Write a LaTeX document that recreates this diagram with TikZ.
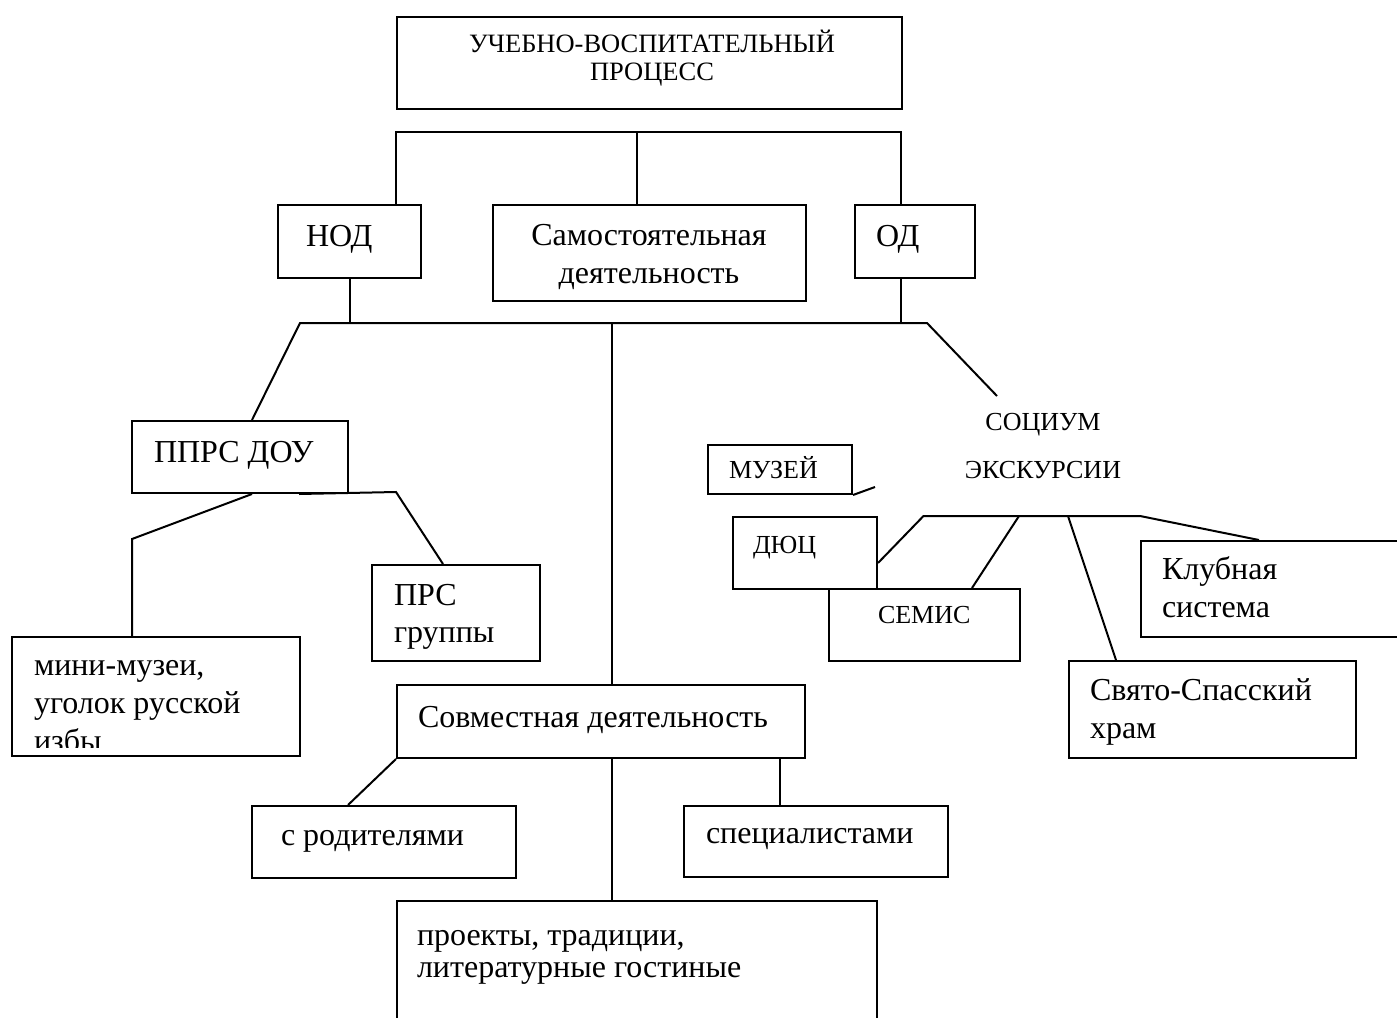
\documentclass[tikz,border=0pt]{standalone}
\usepackage{fontspec}
\setmainfont{Liberation Serif}
\usetikzlibrary{positioning}

\newcommand{\txtbig}{\fontsize{32}{38}\selectfont}
\newcommand{\txtsmall}{\fontsize{26}{28}\selectfont}

\begin{document}
\begin{tikzpicture}[
	x=1pt, y=-1pt,
	line width=2pt,
	box/.style 2 args={draw, rectangle, anchor=north west, inner sep=0pt, minimum width=#1, minimum height=#2},
	txt/.style={anchor=base west, inner sep=0pt, align=left, font=\txtbig},
	ctxt/.style={anchor=base, inner sep=0pt, align=center, font=\txtbig},
	small/.style={font=\txtsmall},
]
\useasboundingbox (0,0) rectangle (1397,1017);
\clip (0,0) rectangle (1397,1017);

% boxes
\node [box={505}{92}] (top) at (396,16) {};
\node [box={143}{73}] (nod) at (277,204) {};
\node [box={313}{96}] (sam) at (492,204) {};
\node [box={120}{73}] (od) at (854,204) {};
\node [box={216}{72}] (pprs) at (131,420) {};
\node [box={168}{96}] (prs) at (371,564) {};
\node [box={288}{119}] (mini) at (11,636) {};
\node [box={408}{73}] (sov) at (396,684) {};
\node [box={264}{72}] (rod) at (251,805) {};
\node [box={264}{71}] (spec) at (683,805) {};
\node [box={480}{200}] (proj) at (396,900) {};
\node [box={144}{49}] (muz) at (707,444) {};
\node [box={144.5}{72}] (dyuc) at (731.5,516) {};
\node [box={191.5}{72}] (semis) at (827.5,588) {};
\node [box={287}{97}] (svyato) at (1068,660) {};
\node [box={300}{96}] (klub) at (1140,540) {};

% texts (multi-line ones sit on the baseline of their last line)
\node [ctxt, font=\fontsize{26.5}{28}\selectfont] (top-t) at (652,80) {УЧЕБНО-ВОСПИТАТЕЛЬНЫЙ\\ПРОЦЕСС};
\node [txt] (nod-t) at (305,246) {НОД};
\node [ctxt] (sam-t) at (649,283) {Самостоятельная\\деятельность};
\node [txt] (od-t) at (875,246) {ОД};
\node [txt] (pprs-t) at (153,462) {ППРС ДОУ};
\node [txt, font=\fontsize{32}{37}\selectfont] (prs-t) at (393,642) {ПРС\\группы};
\begin{scope}
	\clip (mini.north west) rectangle (299,747);
	\node [txt] (mini-t) at (33,751) {мини-музеи,\\уголок русской\\избы};
\end{scope}
\node [txt] (sov-t) at (417,727) {Совместная деятельность};
\node [txt] (rod-t) at (280,845) {с родителями};
\node [txt] (spec-t) at (705,843) {специалистами};
\node [txt, font=\fontsize{32}{32}\selectfont] (proj-t) at (416,977) {проекты, традиции,\\литературные гостиные};
\node [ctxt, small] (soc) at (1043,430) {СОЦИУМ};
\node [ctxt, small] (exc) at (1043,478) {ЭКСКУРСИИ};
\node [txt, small] (muz-t) at (728,478) {МУЗЕЙ};
\node [txt, small] (dyuc-t) at (752,553) {ДЮЦ};
\node [txt, small] (semis-t) at (877,623) {СЕМИС};
\node [txt] (svyato-t) at (1089,738) {Свято-Спасский\\храм};
\node [txt] (klub-t) at (1161,617) {Клубная\\система};

% upper bus
\coordinate (bus1l) at (396,132);
\coordinate (bus1m) at (637,132);
\coordinate (bus1r) at (901,132);
\draw (nod.north -| bus1l) -- (bus1l) -- (bus1r) -- (od.north -| bus1r);
\draw (bus1m) -- (sam.north -| bus1m);

% lower bus
\coordinate (bus2l) at (300,323);
\coordinate (bus2m) at (612,323);
\coordinate (bus2r) at (927,323);
\coordinate (soc-end) at (997,396);
\draw (pprs.north -| 252,0) -- (bus2l) -- (bus2r) -- (soc-end);
\draw (nod.south) -- (nod.south |- bus2l);
\draw (od.south -| bus1r) -- (bus1r |- bus2l);
\draw (bus2m) -- (sov.north -| bus2m);
\draw (sov.south -| bus2m) -- (proj.north -| bus2m);
\draw (sov.south west) -- (rod.north -| 348,0);
\draw (sov.south -| 779.5,0) -- (spec.north -| 779.5,0);

% PPRS branches
\draw (pprs.south -| 252,0) -- (132,539) -- (mini.north -| 132,0);
\draw (pprs.south -| 299,0) -- (396,492) -- (prs.north -| 443,0);

% socium branches
\coordinate (muz-end) at (875,487);
\draw (muz.south east) -- (muz-end);
\coordinate (bus3l) at (923.5,516);
\coordinate (bus3r) at (1140,516);
\draw (dyuc.east |- 0,563) -- (bus3l) -- (bus3r) -- (klub.north -| 1259,0);
\draw (1019,516) -- (semis.north -| 972,0);
\draw (1068,516) -- (svyato.north -| 1116,0);
\end{tikzpicture}
\end{document}
